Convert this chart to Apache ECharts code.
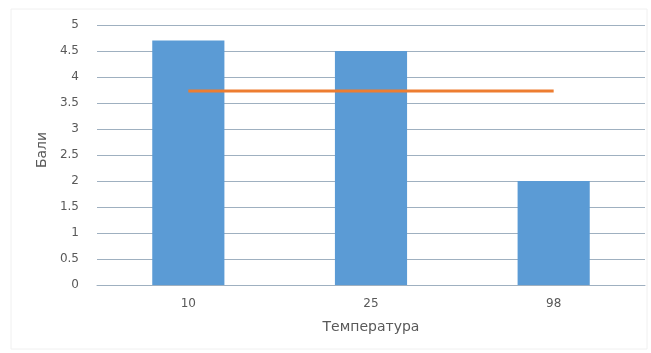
<!DOCTYPE html>
<html>
<head>
<meta charset="utf-8">
<script src="https://cdn.jsdelivr.net/npm/echarts@6/dist/echarts.min.js"></script>
<style>
  html, body { margin: 0; padding: 0; background: #ffffff; }
  #chart { width: 651px; height: 353px; }
</style>
</head>
<body>
<div id="chart"></div>
<script>
// Temperature categories and scores
const categories = ['10', '25', '98'];
const scores = [4.7, 4.5, 2.0];
const average = [3.73, 3.73, 3.73];
const yTicks = { min: 0, max: 5, interval: 0.5 };

const chart = echarts.init(document.getElementById('chart'), null, { renderer: 'canvas' });

const labelFont = 'DejaVu Sans, Verdana, sans-serif';

chart.setOption({
  animation: false,
  backgroundColor: '#ffffff',
  graphic: [{
    type: 'rect',
    shape: { x: 11, y: 9, width: 636, height: 340 },
    style: { fill: 'none', stroke: '#f0f0f0', lineWidth: 1 },
    silent: true
  }],
  grid: { left: 97, right: 6, top: 25, bottom: 68 },
  xAxis: {
    type: 'category',
    data: categories,
    name: 'Температура',
    nameLocation: 'middle',
    nameGap: 35,
    nameTextStyle: { color: '#595959', fontSize: 14, fontFamily: labelFont },
    axisLine: { show: true, lineStyle: { color: '#9fb0c0', width: 1 } },
    axisTick: { show: false },
    axisLabel: { color: '#595959', fontSize: 12, fontFamily: labelFont, margin: 13 }
  },
  yAxis: {
    type: 'value',
    min: yTicks.min,
    max: yTicks.max,
    interval: yTicks.interval,
    name: 'Бали',
    nameLocation: 'middle',
    nameGap: 46,
    nameTextStyle: { color: '#595959', fontSize: 14, fontFamily: labelFont, padding: [0, 0, 0, 10] },
    axisLine: { show: false },
    axisTick: { show: false },
    axisLabel: {
      color: '#595959', fontSize: 12, fontFamily: labelFont, margin: 18,
      formatter: v => String(v)
    },
    splitLine: { show: true, lineStyle: { color: '#9fb0c0', width: 1 } }
  },
  series: [
    {
      type: 'bar',
      data: scores,
      barWidth: '39.5%',
      itemStyle: { color: '#5b9bd5' },
      z: 2
    },
    {
      type: 'line',
      data: average,
      symbol: 'none',
      lineStyle: { color: '#ed7d31', width: 3 },
      z: 3
    }
  ]
});
</script>
</body>
</html>
